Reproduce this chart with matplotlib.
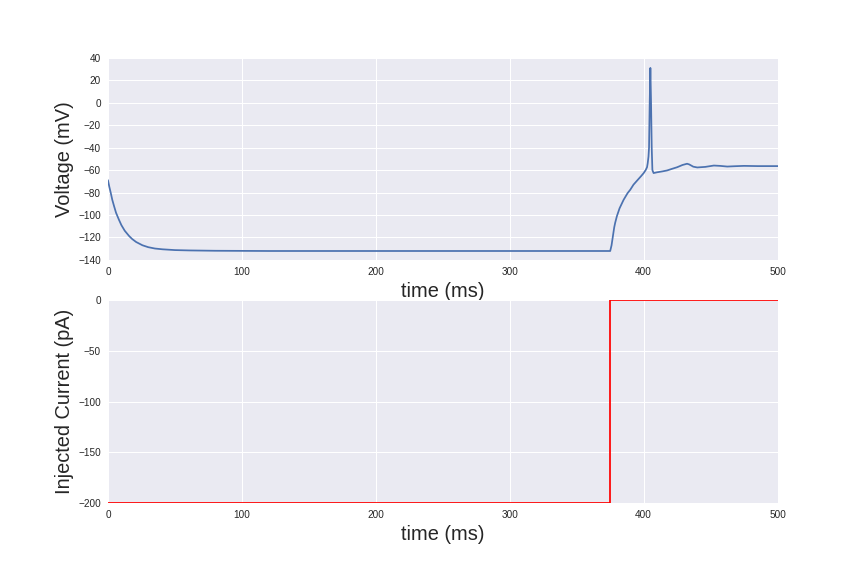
import numpy as np
import matplotlib
matplotlib.use("Agg")
import matplotlib.pyplot as plt

# membrane voltage trace
t_v = [0, 1, 2, 3.2, 4.5, 6, 8.2, 10, 12.5, 15.7, 18, 21, 25.7, 30, 35,
       40.7, 50, 60.6, 80, 120, 200, 300, 375, 376, 377, 378, 378.7, 380,
       382, 385, 388, 390, 392.4, 395, 398, 400, 401.5, 402.5, 403, 403.6,
       404, 404.5, 405, 405.5, 406, 406.5, 407.4, 410, 414, 417.4, 421, 425,
       429, 432.4, 434, 437, 440, 446, 452.4, 457, 462.4, 468, 474.9, 485,
       500]
v = [-69.3, -75, -80, -86.5, -92, -98, -104.3, -109, -114, -118.6, -121.3,
     -124, -126.9, -128.6, -129.8, -130.5, -131.2, -131.5, -131.8, -132,
     -132, -132, -132, -127, -119, -111, -107, -101, -94, -86.5, -80.5,
     -77.5, -73, -69.5, -65.5, -62.7, -60, -57.5, -54, -48, -40, 0, 30.8, 0,
     -40, -60, -62.7, -62, -61.2, -60.4, -59, -57.5, -55.5, -54.4, -55,
     -57, -57.7, -57.2, -56, -56.3, -56.9, -56.6, -56.3, -56.5, -56.5]

# injected current step
t_i = [0, 375, 500]
cur = [-200, 0, 0]

plt.rcParams.update({
    "font.family": ["Liberation Sans", "DejaVu Sans"],
    "axes.facecolor": "#EAEAF2",
    "axes.edgecolor": "white",
    "axes.linewidth": 0,
    "axes.grid": True,
    "grid.color": "white",
    "grid.linewidth": 1,
    "xtick.major.size": 0,
    "ytick.major.size": 0,
    "xtick.major.pad": 7,
    "ytick.major.pad": 7,
    "xtick.labelsize": 10,
    "ytick.labelsize": 10,
    "xtick.color": ".15",
    "ytick.color": ".15",
    "axes.labelcolor": ".15",
    "axes.axisbelow": True,
})

fig, (ax1, ax2) = plt.subplots(2, 1, figsize=(12, 8), dpi=72)
fig.subplots_adjust(left=0.125, right=0.9, top=0.9, bottom=0.127, hspace=0.2)

ax1.plot(t_v, v, color="#4C72B0", lw=1.75)
ax1.set_xlim(0, 500)
ax1.set_ylim(-140, 40)
ax1.set_xlabel("time (ms)", fontsize=20, labelpad=5)
ax1.set_ylabel("Voltage (mV)", fontsize=20)

ax2.plot(t_i, cur, color="r", lw=1.75, drawstyle="steps-post")
ax2.set_xlim(0, 500)
ax2.set_ylim(-200, 0)
ax2.set_yticks([0, -50, -100, -150, -200])
ax2.set_xlabel("time (ms)", fontsize=20, labelpad=5)
ax2.set_ylabel("Injected Current (pA)", fontsize=20)

fig.savefig("out.png")
